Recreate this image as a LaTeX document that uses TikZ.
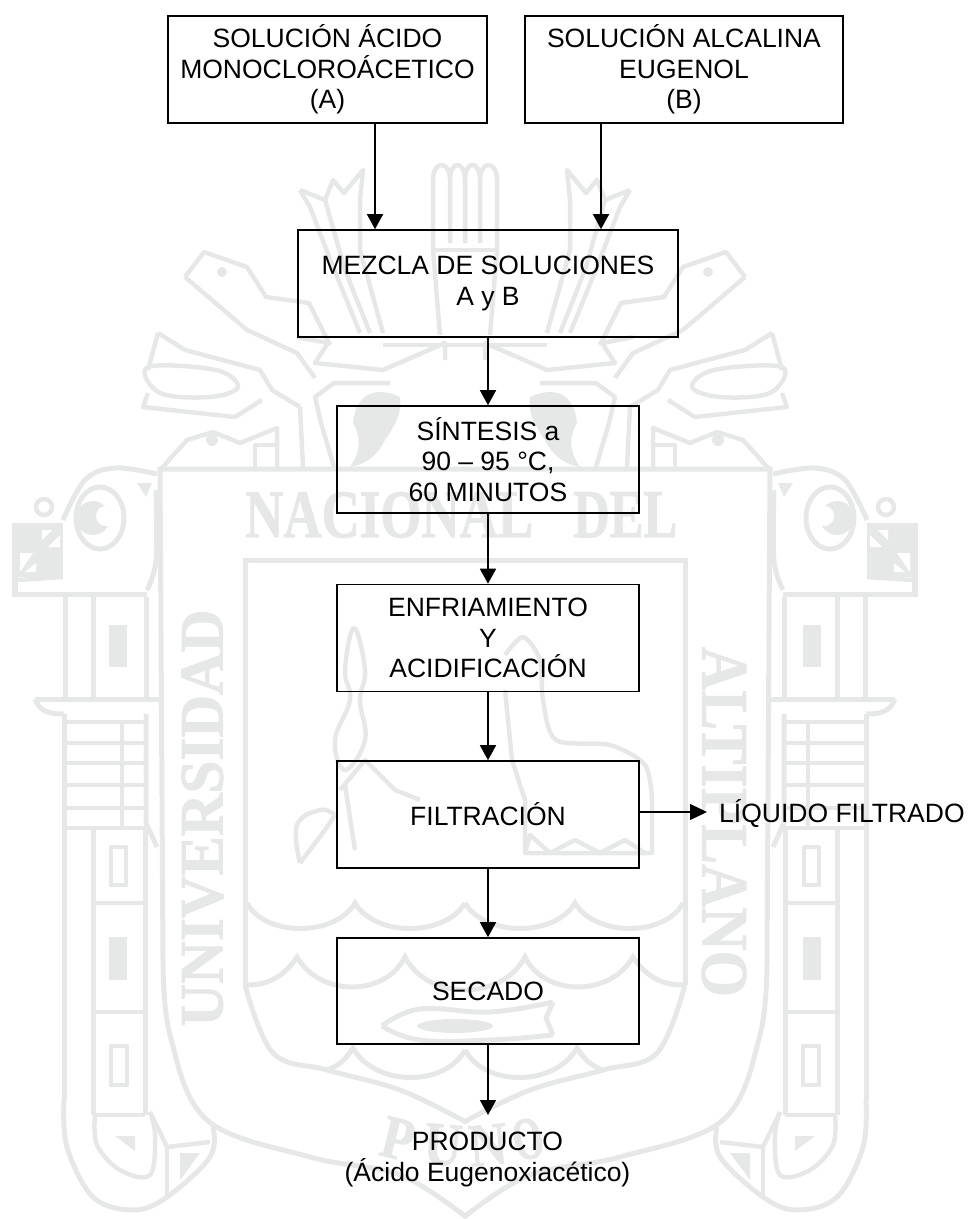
\documentclass[tikz,border=0pt]{standalone}
\usepackage{fontspec}
\usepackage{graphicx}
\setmainfont{Liberation Sans}
\newfontfamily\wmfont[BoldFeatures={FakeBold=1.5}]{Liberation Serif}
\usetikzlibrary{arrows.meta}
\definecolor{wmgray}{HTML}{E6E8E8}
\tikzset{
  wmline/.style={draw=wmgray,line width=5pt,line join=miter},
  wmthin/.style={draw=wmgray,line width=4.5pt,line join=round},
  wmfill/.style={fill=wmgray,draw=none},
  wmtext/.style={text=wmgray,inner sep=0pt,font=\wmfont\bfseries},
  procbox/.style={draw=black,line width=1.6pt,inner sep=0pt,align=center,font=\fontsize{26.5}{30.5}\selectfont},
  plainlabel/.style={inner sep=0pt,align=center,font=\fontsize{26.5}{30.5}\selectfont},
  flow/.style={draw=black,line width=1.6pt,-{Triangle[length=15pt,width=16pt]}},
  flowthin/.style={draw=black,line width=1.2pt,-{Triangle[length=17pt,width=16pt]}}
}
\newcommand{\sealhalf}{%
  % outer shield
  \draw[wmline] (465,469)--(160,469)--(163,960);
  \draw[wmline] plot[smooth,tension=.6] coordinates{(163,960)(170,1035)(207,1120)(310,1157)(400,1175)(466,1217)};
  % inner shield
  \draw[wmline] (465,560)--(245,560)--(245,985);
  \draw[wmline] plot[smooth,tension=.6] coordinates{(245,985)(273,1053)(327,1070)(400,1090)(466,1122)};
  % waves
  \draw[wmline] (247,903) .. controls (265,937) and (335,937) .. (355,903) .. controls (375,937) and (445,937) .. (465,903);
  \draw[wmline] (247,985) .. controls (270,985) and (285,975) .. (297,957) .. controls (320,997) and (385,997) .. (405,957) .. controls (420,985) and (450,990) .. (465,990);
  \draw[wmline] (327,1070) .. controls (340,1065) and (345,1060) .. (353,1048) .. controls (375,1087) and (445,1087) .. (465,1050);
  % column, upper part
  \draw[wmline] (65,597)--(65,697);
  \draw[wmline] (93,597)--(93,697);
  \draw[wmline] (146,597)--(146,697);
  \fill[wmfill] (109,625) rectangle (127,667);
  \draw[wmline] (160,699)--(35,699);
  \draw[wmline] (35,699) .. controls (40,712) and (50,714) .. (64,714);
  % ladder
  \draw[wmline] (64,714)--(64,830);
  \draw[wmline] (146,714)--(146,823)--(157,847);
  \draw[wmthin] (122,720)--(122,828);
  \foreach \yy in {722,743,763,785,808,828}{\draw[wmthin] (64,\yy)--(146,\yy);}
  % column, lower part
  \draw[wmline] (64,830)--(64,1100);
  \draw[wmline] (93,830)--(93,1115);
  \draw[wmline] (145,830)--(145,1115);
  \draw[wmthin] (93,903)--(145,903);
  \draw[wmthin] (93,1012)--(145,1012);
  \draw[wmthin] (93,1115)--(145,1115);
  \draw[wmthin] (111,847) rectangle (126,885);
  \fill[wmfill] (109,937) rectangle (127,980);
  \draw[wmthin] (111,1046) rectangle (127,1085);
  % column foot
  \draw[wmline] plot[smooth,tension=.6] coordinates{(64,1100)(67,1147)(93,1197)(133,1210)(167,1197)(210,1157)(213,1127)};
  \draw[wmthin] plot[smooth,tension=.6] coordinates{(95,1115)(97,1145)(120,1170)(150,1175)(155,1135)(150,1112)};
  \draw[wmthin] (150,1112)--(167,1147)--(210,1142);
  \draw[wmthin] (167,1147)--(167,1197);
  \fill[wmfill] (115,1136)--(135,1136)--(135,1151)--cycle;
  \fill[wmfill] (180,1153)--(200,1153)--(180,1180)--cycle;
  % head
  \fill[wmfill] (12,523) rectangle (63,577);
  \fill[white] (42,530)--(52,530)--(42,540)--cycle;
  \fill[white] (60,535)--(60,547)--(48,547)--cycle;
  \fill[white] (20,553)--(33,553)--(20,572)--cycle;
  \fill[white] (36,563)--(36,572)--(25,572)--cycle;
  \fill[wmfill] (12,577) rectangle (18,597);
  \draw[wmline] (12,594.5)--(147,594.5);
  \draw[wmthin] (18,580)--(63,577);
  \draw[wmthin] (44,507) circle[x radius=8pt,y radius=8pt];
  \draw[wmline] (100,518) circle[x radius=24pt,y radius=31pt];
  \fill[wmfill] (93,518) circle[radius=17pt];
  \fill[white] (106,516) circle[radius=10pt];
  \draw[wmline] plot[smooth,tension=.6] coordinates{(157,474)(115,468)(85,480)(63,520)};
  \draw[wmline] plot[smooth,tension=.6] coordinates{(156,490)(156,560)(147,590)};
  \fill[wmfill] (137,483)--(152,483)--(146,497)--cycle;
  % plume
  \draw[wmthin] (433,250)--(433,180) .. controls (433,160) and (450,160) .. (450,180)--(450,243);
  \draw[wmthin] (450,180) .. controls (450,160) and (465,160) .. (465,180)--(465,243);
  \draw[wmthin] (433,250)--(465,250);
  \draw[wmthin] (433,250)--(440,335);
  % tulip
  \draw[wmthin] (300,190)--(325,200)--(333,180)--(344,193)--(363,170)--(360,200)--(360,250)--(383,333);
  \draw[wmthin] (300,190)--(310,207)--(333,267)--(360,333);
  \draw[wmthin] (325,200)--(345,270)--(370,333);
  % bird
  \draw[wmthin] (185,277)--(204,252)--(247,267)--(266,297)--(309,303)--(330,345);
  \draw[wmthin] (185,277)--(247,330)--(297,353)--(315,378);
  \fill[wmfill] (222,272) circle[radius=5pt];
  % wing
  \draw[wmthin] (158,333)--(185,350)--(260,370)--(272,390)--(300,407);
  \draw[wmthin] plot[smooth cycle,tension=.6] coordinates{(148,367)(216,370)(238,387)(210,397)(160,393)};
  \draw[wmthin] (158,333)--(148,370);
  \draw[wmthin] (148,393)--(143,407)--(235,417)--(262,400);
  % scrolls
  \draw[wmthin] (297,337)--(328,343)--(315,363)--(383,370)--(445,343)--(445,360);
  \draw[wmthin] (390,383)--(334,383)--(315,397)--(321,423)--(334,467);
  \draw[wmthin] (300,407)--(303,467);
  \draw[wmthin] (383,345)--(465,345);
  % lower bird
  \draw[wmthin] (160,470)--(187,440)--(213,432)--(240,443)--(277,428)--(277,467);
  \draw[wmthin] (255,467)--(255,445)--(277,445);
  \fill[wmfill] (212,440) circle[radius=6pt];
  % big comma
  \fill[wmfill] (353,423) .. controls (355,395) and (375,385) .. (400,397) .. controls (402,415) and (395,425) .. (385,440) .. controls (378,455) and (365,465) .. (350,467) .. controls (362,450) and (360,435) .. (353,423)--cycle;
}
\begin{document}
\begin{tikzpicture}[x=1pt,y=-1pt]
\useasboundingbox (0,0) rectangle (969,1219);
% ---- watermark seal
\sealhalf
\begin{scope}[shift={(930,0)},xscale=-1]
\sealhalf
\end{scope}
\node[wmtext,anchor=north west] (wmnac) at (245,492) {\resizebox{288pt}{45pt}{NACIONAL}};
\node[wmtext,anchor=north west] (wmdel) at (573,492) {\resizebox{104pt}{45pt}{DEL}};
\node[wmtext] (wmuni) at (202.5,818) {\rotatebox{90}{\resizebox{417pt}{41pt}{UNIVERSIDAD}}};
\node[wmtext] (wmalt) at (724,822) {\rotatebox{-90}{\resizebox{350pt}{44pt}{ALTIPLANO}}};
\node[wmtext,rotate=-14] (wmp) at (398,1139) {\resizebox{32pt}{40pt}{P}};
\node[wmtext,rotate=-5] (wmu) at (443,1145) {\resizebox{38pt}{40pt}{U}};
\node[wmtext,rotate=5] (wmn) at (488,1145) {\resizebox{38pt}{40pt}{N}};
\node[wmtext,rotate=14] (wmo) at (528,1139) {\resizebox{30pt}{40pt}{O}};
% fish
\draw[wmline] plot[smooth,tension=.7] coordinates{(382,1026)(420,1009)(490,1012)(553,1002)};
\draw[wmline] plot[smooth,tension=.7] coordinates{(382,1026)(420,1040)(490,1040)(553,1035)};
\draw[wmline] (553,1002)--(546,1018)--(553,1035);
\fill[wmfill] (455,1026) ellipse[x radius=38pt,y radius=7pt];
% plant
\draw[wmthin] plot[smooth cycle,tension=.7] coordinates{(354,628)(345,670)(350,700)(335,740)(345,770)(365,740)(360,700)(365,670)};
\draw[wmthin] plot[smooth,tension=.7] coordinates{(300,863)(297,825)(320,810)(335,815)};
\draw[wmthin] (300,863)--(325,830)--(335,815);
\draw[wmthin] (340,790)--(365,760)--(395,790)--(420,800);
\draw[wmthin] (345,785)--(355,850);
% llama
\draw[wmthin] plot[smooth,tension=.5] coordinates{(505,655)(523,637)(540,660)(543,700)(556,740)(610,745)(645,765)(652,800)};
\draw[wmthin] (505,690)--(512,760)--(525,800)--(525,853)--(652,853)--(652,800);
\draw[wmthin] (525,853)--(530,835)--(550,853)--(575,840)--(600,853)--(625,840)--(645,853);
% ---- flow chart
\coordinate (axa) at (375,0);
\coordinate (axb) at (601,0);
\node[procbox,minimum width=319pt,minimum height=107pt] (sola) at (327.5,69.5) {SOLUCIÓN ÁCIDO\\MONOCLOROÁCETICO\\(A)};
\node[procbox,minimum width=318pt,minimum height=107pt] (solb) at (684,69.5) {SOLUCIÓN ALCALINA\\EUGENOL\\(B)};
\node[procbox,minimum width=380pt,minimum height=107pt] (mix) at (488,283.5) {MEZCLA DE SOLUCIONES\\A y B};
\node[procbox,minimum width=302pt,minimum height=107pt] (synth) at (488,459.5) {SÍNTESIS a\\90 – 95 °C,\\60 MINUTOS};
\node[procbox,minimum width=302pt,minimum height=107pt] (cool) at (488,638) {ENFRIAMIENTO\\Y\\ACIDIFICACIÓN};
\node[procbox,minimum width=302pt,minimum height=107pt] (filt) at (488,814.5) {FILTRACIÓN};
\node[procbox,minimum width=302pt,minimum height=106pt] (dry) at (488,991) {SECADO};
\node[plainlabel,anchor=west] (liq) at (719,814) {LÍQUIDO FILTRADO};
\node[plainlabel] (prod) at (487.5,1159.5) {PRODUCTO\\(Ácido Eugenoxiacético)};
\coordinate (liqin) at (707,812);
\coordinate (prodin) at (488,1115);
\draw[flow] (sola.south -| axa) -- (mix.north -| axa);
\draw[flow] (solb.south -| axb) -- (mix.north -| axb);
\draw[flow] (mix) -- (synth);
\draw[flow] (synth) -- (cool);
\draw[flow] (cool) -- (filt);
\draw[flow] (filt) -- (dry);
\draw[flow] (dry.south) -- (prodin);
\draw[flowthin] (filt.east |- liqin) -- (liqin);
\end{tikzpicture}
\end{document}
